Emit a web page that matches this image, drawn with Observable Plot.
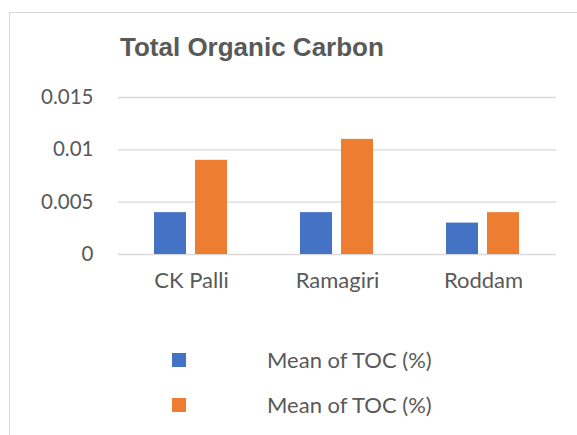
<!DOCTYPE html>
<html>
<head>
<meta charset="utf-8">
<script src="https://cdn.jsdelivr.net/npm/d3@7"></script>
<script src="https://cdn.jsdelivr.net/npm/@observablehq/plot@0.6"></script>
<style>
  html, body { margin: 0; padding: 0; background: #fff; }
  #wrap { position: relative; width: 577px; height: 435px; overflow: hidden; background: #fff; }
  #frame { position: absolute; left: 9px; top: 12px; width: 620px; height: 520px; border: 1.5px solid #d9d9d9; box-sizing: border-box; }
  #title { position: absolute; left: 120px; top: 32px; font: bold 26px "Liberation Sans", Arial, sans-serif; color: #595959; white-space: nowrap; line-height: 30px; }
  #chart { position: absolute; left: 0; top: 0; }
  .leg { position: absolute; left: 0; height: 24px; width: 577px; font-family: Lato, sans-serif; font-size: 22px; color: #595959; line-height: 24px; }
  .leg .sw { position: absolute; left: 172px; top: 5px; width: 14px; height: 14px; }
  .leg .lb { position: absolute; left: 267px; top: 0; white-space: nowrap; }
</style>
</head>
<body>
<div id="wrap">
  <div id="frame"></div>
  <div id="title"></div>
  <div id="chart"></div>
  <div id="legend"></div>
</div>
<script>
const titleText = "Total Organic Carbon";
const sites = ["CK Palli", "Ramagiri", "Roddam"];
const seriesKeys = ["s1", "s2"];
const seriesLabels = ["Mean of TOC (%)", "Mean of TOC (%)"];
const series1 = [0.004, 0.004, 0.003];
const series2 = [0.009, 0.011, 0.004];
const yTicks = [0, 0.005, 0.01, 0.015];
const yTickLabels = ["0", "0.005", "0.01", "0.015"];
const colors = ["#4472C4", "#ED7D31"];

const seriesValues = [series1, series2];
const data = [];
sites.forEach((s, i) => {
  seriesKeys.forEach((k, j) => data.push({site: s, key: k, value: seriesValues[j][i]}));
});

document.getElementById("title").textContent = titleText;

const chart = Plot.plot({
  width: 577,
  height: 300,
  marginLeft: 117,
  marginRight: 21,
  marginTop: 97,
  marginBottom: 46,
  style: {fontFamily: "Lato, sans-serif", fontSize: "22px", color: "#595959", background: "transparent", overflow: "visible"},
  fx: {domain: sites, padding: 0, label: null},
  x: {domain: seriesKeys, paddingInner: 0.214, paddingOuter: 0.85, axis: null},
  y: {domain: [0, 0.015], label: null},
  color: {domain: seriesKeys, range: colors},
  marks: [
    Plot.gridY(yTicks, {stroke: "#d9d9d9", strokeOpacity: 1, strokeWidth: 1.3}),
    Plot.barY(data, {fx: "site", x: "key", y: "value", fill: "key"}),
    Plot.axisY(yTicks, {tickSize: 0, tickPadding: 25, tickFormat: (d) => yTickLabels[yTicks.indexOf(d)], label: null, fill: "#595959", fontSize: 20.5}),
    Plot.axisFx({anchor: "bottom", tickSize: 0, tickPadding: 18, label: null, fill: "#595959", fontSize: 22})
  ]
});
document.getElementById("chart").appendChild(chart);

const legend = document.getElementById("legend");
const legendTops = [348, 393];
seriesKeys.forEach((k, i) => {
  const row = document.createElement("div");
  row.className = "leg";
  row.style.top = legendTops[i] + "px";
  const sw = document.createElement("div");
  sw.className = "sw";
  sw.style.background = colors[i];
  const lb = document.createElement("div");
  lb.className = "lb";
  lb.textContent = seriesLabels[i];
  row.appendChild(sw);
  row.appendChild(lb);
  legend.appendChild(row);
});
</script>
</body>
</html>
